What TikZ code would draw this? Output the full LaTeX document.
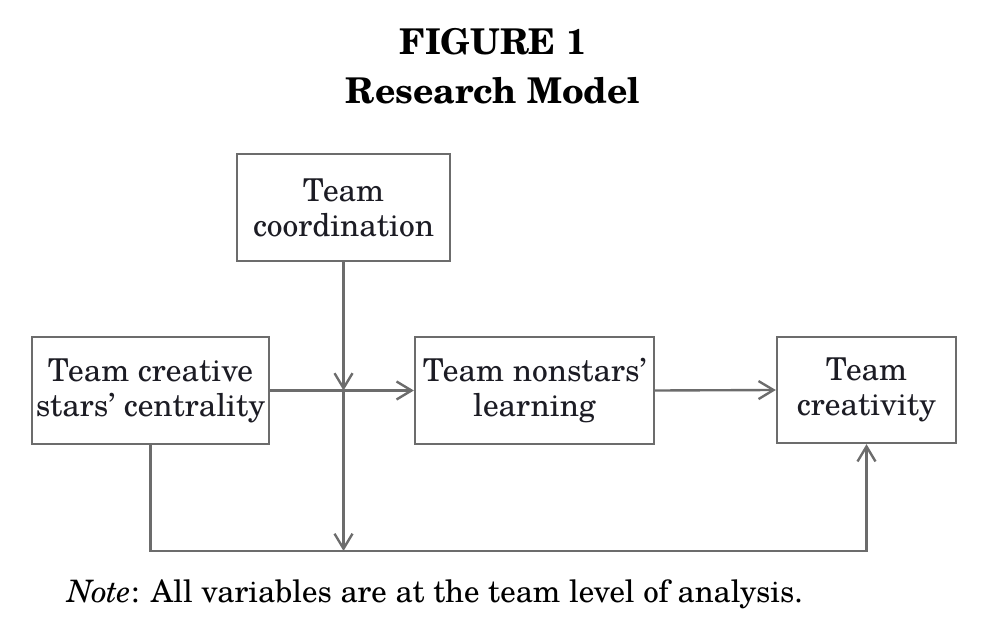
\documentclass[tikz,border=0pt]{standalone}
\usepackage{fontspec}
\setmainfont{texgyreschola}[Extension=.otf, UprightFont=*-regular, BoldFont=*-bold, ItalicFont=*-italic, BoldItalicFont=*-bolditalic]
\usetikzlibrary{arrows.meta,calc}
\definecolor{linegray}{RGB}{108,108,108}
\definecolor{inkdark}{RGB}{28,28,36}
\begin{document}
\begin{tikzpicture}[x=0.02cm,y=-0.02cm,
  varbox/.style={draw=linegray, line width=1.35pt, inner sep=0pt, align=center,
    font=\fontsize{17.9}{20}\selectfont, text=inkdark},
  link/.style={draw=linegray, line width=1.35pt,
    -{Straight Barb[length=0.3cm, width=0.36cm, line width=1.35pt]}}]
\useasboundingbox (0,0) rectangle (983,634);

% title
\node[font=\bfseries\fontsize{20.2}{23}\selectfont] (fig) at (493,42) {FIGURE 1};
\node[font=\bfseries\fontsize{20.2}{23}\selectfont] (title) at (493,91) {Research Model};

% variables
\node[varbox, minimum width=4.26cm, minimum height=2.14cm] (coord) at (343.5,207.5) {Team\\coordination};
\node[varbox, minimum width=4.74cm, minimum height=2.14cm] (stars) at (150.5,390.5) {Team creative\\stars' centrality};
\node[varbox, minimum width=4.78cm, minimum height=2.14cm] (non) at (534.5,390.5) {Team nonstars'\\learning};
\node[varbox, minimum width=3.58cm, minimum height=2.12cm] (crea) at (866.5,390) {Team\\creativity};

\coordinate (cross) at (coord.south |- stars.east);
\coordinate (low) at (343.5,551);

% paths
\draw[link] (stars.east) -- (non.west);
\draw[link] (non.east) -- (crea.west);
\draw[link] (coord.south) -- (cross);
\draw[link] (cross) -- (low);
\draw[link] (stars.south) |- (low) -| (crea.south);

% note
\node[anchor=base west, inner sep=0pt, font=\fontsize{17.6}{20}\selectfont] (note) at (67,602)
  {\textit{Note}: All variables are at the team level of analysis.};
\end{tikzpicture}
\end{document}
